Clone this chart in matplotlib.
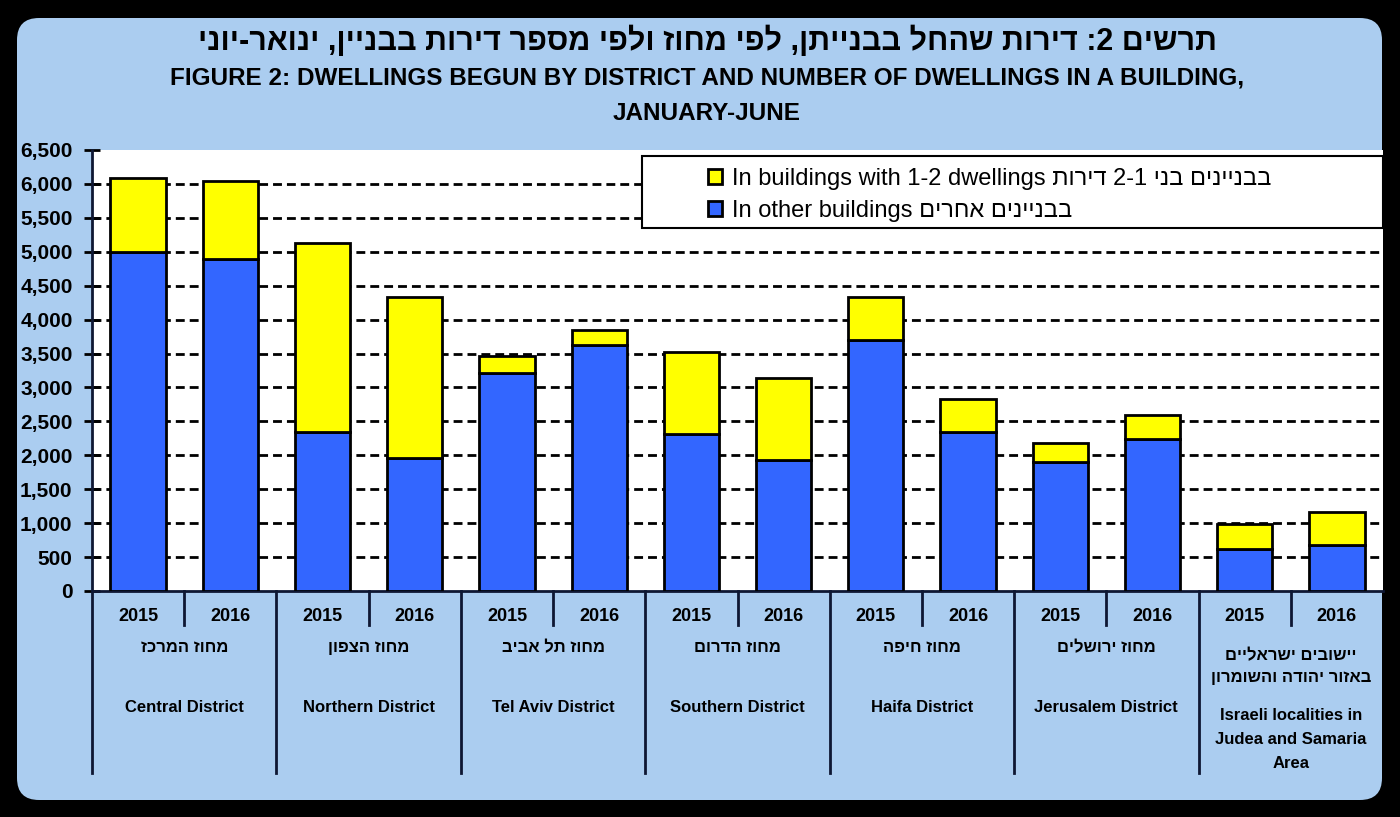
import numpy as np
import matplotlib
matplotlib.use('Agg')
import matplotlib.pyplot as plt
from matplotlib.patches import FancyBboxPatch, Rectangle
from matplotlib.transforms import IdentityTransform

# data (dwellings begun, January-June)
years = ['2015', '2016']
districts_he = ['מחוז המרכז', 'מחוז הצפון', 'מחוז תל אביב', 'מחוז הדרום',
                'מחוז חיפה', 'מחוז ירושלים',
                'יישובים ישראליים\nבאזור יהודה והשומרון']
districts_en = ['Central District', 'Northern District', 'Tel Aviv District',
                'Southern District', 'Haifa District', 'Jerusalem District',
                'Israeli localities in\nJudea and Samaria\nArea']
totals = [6090, 6050, 5130, 4330, 3465, 3840, 3530, 3145, 4330, 2830, 2175, 2595, 990, 1160]
other_buildings = [5000, 4900, 2350, 1965, 3215, 3630, 2315, 1930, 3695, 2340, 1895, 2240, 615, 678]
small_buildings = [t - o for t, o in zip(totals, other_buildings)]

BLUE = '#3366FF'
YELLOW = '#FFFF00'
PANEL = '#ABCDF0'
LINE = '#0E1733'
FONT = ['Liberation Sans Narrow', 'Liberation Sans', 'DejaVu Sans']


def heb(s):
    # matplotlib has no bidi support: put a right-to-left string in visual order
    lines = []
    for line in s.split('\n'):
        toks = []
        for tok in reversed(line.split(' ')):
            if tok and all(c.isdigit() or c == '-' for c in tok):
                toks.append(tok)
            else:
                toks.append(tok[::-1])
        lines.append(' '.join(toks))
    return '\n'.join(lines)


fig = plt.figure(figsize=(14, 8.17), dpi=100, facecolor='black')

# rounded light-blue panel
panel = FancyBboxPatch((17, 17), 1365, 782, boxstyle='round,pad=0,rounding_size=22',
                       transform=IdentityTransform(), facecolor=PANEL, edgecolor='none', zorder=-1)
fig.patches.append(panel)
# black strip that cuts off the left of the tick labels, like the reference
fig.patches.append(Rectangle((0, 0), 17, 817, transform=IdentityTransform(),
                             facecolor='black', edgecolor='none', zorder=10))

ax = fig.add_axes([92 / 1400, 1 - 591 / 817, 1291 / 1400, 441 / 817])
ax.set_facecolor('white')

x = np.arange(len(totals))
ax.bar(x, other_buildings, width=0.6, color=BLUE, edgecolor='black', linewidth=2, zorder=3,
       label='In other buildings ' + heb('בבניינים אחרים'))
ax.bar(x, small_buildings, bottom=other_buildings, width=0.6, color=YELLOW, edgecolor='black',
       linewidth=2, zorder=3,
       label='In buildings with 1-2 dwellings ' + heb('בבניינים בני 2-1 דירות'))

ax.set_xlim(-0.5, len(totals) - 0.5)
ax.set_ylim(0, 6500)
yt = np.arange(0, 6501, 500)
ax.set_yticks(yt, [f'{v:,}' for v in yt], fontsize=15, fontweight='bold', family=FONT)
ax.tick_params(axis='y', direction='inout', length=12, width=2, pad=8)
for v in yt[1:-1]:
    ax.axhline(v, color='black', lw=2, ls=(0, (3.2, 1.8)), zorder=1)

ax.set_xticks(x, years * len(districts_en), fontsize=13, fontweight='bold', family=FONT)
ax.tick_params(axis='x', length=0, pad=12)

for s in ['top', 'right']:
    ax.spines[s].set_visible(False)
for s in ['left', 'bottom']:
    ax.spines[s].set_linewidth(2)
    ax.spines[s].set_color(LINE)

# category axis: group and year separators
tr = ax.get_xaxis_transform()
for b in np.arange(-0.5, len(totals) - 1, 2):
    ax.plot([b, b], [0, -0.413], color=LINE, lw=2, transform=tr, clip_on=False)
for b in np.arange(0.5, len(totals), 2):
    ax.plot([b, b], [0, -0.077], color=LINE, lw=2, transform=tr, clip_on=False)

for i, (he, en) in enumerate(zip(districts_he, districts_en)):
    cx = 2 * i + 0.5
    ax.text(cx, -0.129, heb(he), transform=tr, ha='center', va='top' if '\n' in he else 'center',
            fontsize=12, fontweight='bold', family=FONT, linespacing=1.6)
    ax.text(cx, -0.265, en, transform=tr, ha='center', va='top' if '\n' in en else 'center',
            fontsize=12, fontweight='bold', family=FONT, linespacing=1.75)

# legend box
ax.add_patch(Rectangle((0.426, 0.823), 0.574, 0.163, transform=ax.transAxes, facecolor='white',
                       edgecolor='black', lw=1.5, zorder=4, clip_on=False))
h, l = ax.get_legend_handles_labels()
leg = ax.legend(h[::-1], l[::-1], loc='upper left', bbox_to_anchor=(0.47, 0.98), frameon=False,
                prop={'family': ['Liberation Sans', 'DejaVu Sans'], 'size': 17},
                handlelength=0.6, handleheight=0.6, handletextpad=0.4, labelspacing=0.4,
                borderaxespad=0)
leg.set_zorder(5)

# titles
fig.text(0.505, 1 - 41 / 817, heb('תרשים 2: דירות שהחל בבנייתן, לפי מחוז ולפי מספר דירות בבניין, ינואר-יוני'),
         ha='center', va='center', fontsize=22, fontweight='bold', family=FONT)
fig.text(0.505, 1 - 78 / 817, 'FIGURE 2: DWELLINGS BEGUN BY DISTRICT AND NUMBER OF DWELLINGS IN A BUILDING,',
         ha='center', va='center', fontsize=17.5, fontweight='bold', family=FONT)
fig.text(0.505, 1 - 113 / 817, 'JANUARY-JUNE',
         ha='center', va='center', fontsize=17.5, fontweight='bold', family=FONT)

fig.savefig('out.png', dpi=100, facecolor='black')
